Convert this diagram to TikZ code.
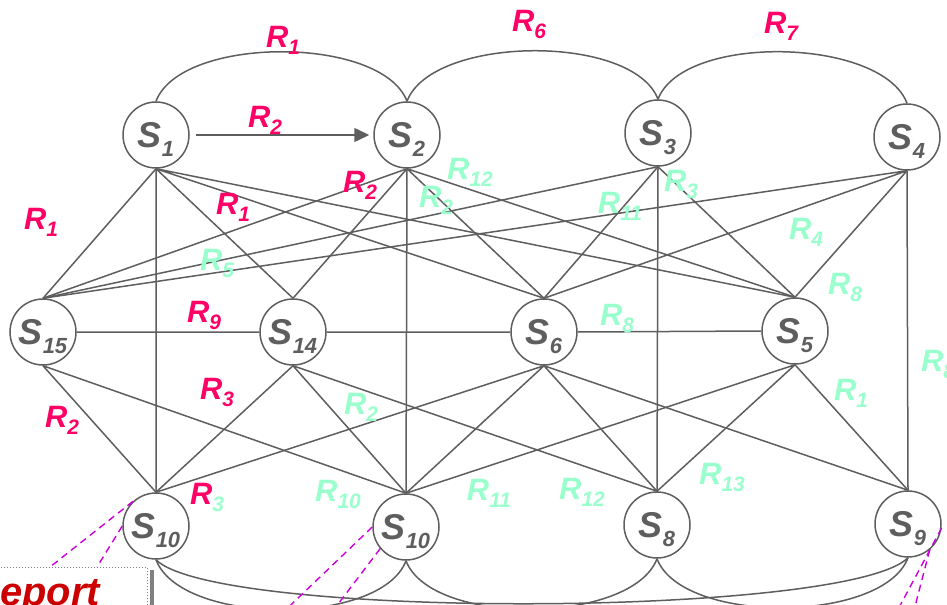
\documentclass[tikz,border=0pt]{standalone}
\usepackage{fontspec}
\setmainfont{Liberation Sans}
\usetikzlibrary{arrows.meta,calc}
\definecolor{edgegray}{HTML}{5E5E5E}
\definecolor{relred}{HTML}{FF0066}
\definecolor{relgreen}{HTML}{99FFCC}
\definecolor{linkpurple}{HTML}{CC00DD}
\definecolor{reportred}{HTML}{CC0000}

% state and relation names, subscript dropped below the baseline
\newcommand{\stname}[1]{\fontsize{36}{36}\selectfont S\raisebox{-9bp}[0pt][0pt]{\fontsize{22}{22}\selectfont #1}}
\newcommand{\relname}[1]{\fontsize{31}{31}\selectfont R\raisebox{-7bp}{\fontsize{21}{21}\selectfont #1}}

\tikzset{
  statenode/.style={circle, draw=edgegray, line width=1.5bp, minimum size=66bp, inner sep=0pt,
    fill=white, text=edgegray, font=\bfseries\itshape},
  link/.style={draw=edgegray, line width=1.5bp},
  redlab/.style={text=relred, font=\bfseries\itshape, inner sep=0pt},
  greenlab/.style={text=relgreen, font=\bfseries\itshape, inner sep=0pt},
  callout/.style={draw=linkpurple, line width=1.4bp, dash pattern=on 7bp off 5bp},
  reportbox/.style={draw=gray, line width=1.2bp, dash pattern=on 1.2bp off 1.8bp,
    text=reportred, font=\fontsize{40}{40}\selectfont\bfseries\itshape}
}

\begin{document}
\begin{tikzpicture}[x=1bp, y=-1bp]
  \useasboundingbox (0,0) rectangle (947,605);
  \clip (0,0) rectangle (947,605);

  % states
  \node[statenode] (s1) at (156,135) {\stname{1}};
  \node[statenode] (s2) at (407,135) {\stname{2}};
  \node[statenode] (s3) at (658,133) {\stname{3}};
  \node[statenode] (s4) at (907,137) {\stname{4}};
  \node[statenode] (s15) at (43,332) {\stname{15}};
  \node[statenode] (s14) at (293,332) {\stname{14}};
  \node[statenode] (s6) at (544,332) {\stname{6}};
  \node[statenode] (s5) at (795,331) {\stname{5}};
  \node[statenode] (s10a) at (156,526) {\stname{10}};
  \node[statenode] (s10b) at (406,527) {\stname{10}};
  \node[statenode] (s8) at (657,525) {\stname{8}};
  \node[statenode] (s9) at (908,524) {\stname{9}};

  % arcs over the top row and under the bottom row
  \draw[link] (s1.north) .. controls +(25,-66) and +(-25,-66) .. (s2.north);
  \draw[link] (s2.north) .. controls +(25,-66) and +(-25,-66) .. (s3.north);
  \draw[link] (s3.north) .. controls +(25,-66) and +(-25,-66) .. (s4.north);
  \draw[link] (s10a.south) .. controls +(25,66) and +(-25,66) .. (s10b.south);
  \draw[link] (s10b.south) .. controls +(25,66) and +(-25,66) .. (s8.south);
  \draw[link] (s8.south) .. controls +(25,66) and +(-25,66) .. (s9.south);
  \draw[link] (s10a.south) .. controls +(60,60) and +(-60,60) .. (s9.south);

  \draw[link, -{Triangle[length=15bp,width=14bp]}, shorten <=6bp, shorten >=4bp] (s1.east) -- (s2.west);

  % top row down to the middle row
  \draw[link] (s1.south) -- (s15.north) (s1.south) -- (s14.north) (s1.south) -- (s6.north) (s1.south) -- (s5.north);
  \draw[link] (s2.south) -- (s15.north) (s2.south) -- (s14.north) (s2.south) -- (s6.north) (s2.south) -- (s5.north);
  \draw[link] (s3.south) -- (s15.north) (s3.south) -- (s6.north) (s3.south) -- (s5.north);
  \draw[link] (s4.south) -- (s15.north) (s4.south) -- (s6.north) (s4.south) -- (s5.north);
  \draw[link] (s1.south) -- (s10a.north) (s2.south) -- (s10b.north) (s3.south) -- (s8.north) (s4.south) -- (s9.north);
  \draw[link] (s15.east) -- (s14.west) (s14.east) -- (s6.west) (s6.east) -- (s5.west);

  % middle row down to the bottom row
  \draw[link] (s15.south) -- (s10a.north) (s15.south) -- (s10b.north);
  \draw[link] (s14.south) -- (s10a.north) (s14.south) -- (s10b.north) (s14.south) -- (s8.north);
  \draw[link] (s6.south) -- (s10a.north) (s6.south) -- (s10b.north) (s6.south) -- (s8.north) (s6.south) -- (s9.north);
  \draw[link] (s5.south) -- (s10b.north) (s5.south) -- (s8.north) (s5.south) -- (s9.north);

  % relation labels
  \node[redlab] (ra) at (283,40) {\relname{1}};
  \node[redlab] (rb) at (265,120) {\relname{2}};
  \node[redlab] (rc) at (41,222) {\relname{1}};
  \node[redlab] (rd) at (233,207) {\relname{1}};
  \node[redlab] (re) at (360,185) {\relname{2}};
  \node[redlab] (rf) at (529,24) {\relname{6}};
  \node[redlab] (rg) at (781,26) {\relname{7}};
  \node[redlab] (rh) at (204,315) {\relname{9}};
  \node[redlab] (ri) at (217,392) {\relname{3}};
  \node[redlab] (rj) at (62,420) {\relname{2}};
  \node[redlab] (rk) at (207,497) {\relname{\textcolor{relgreen}{3}}};

  \node[greenlab] (ga) at (470,172) {\relname{12}};
  \node[greenlab] (gb) at (436,200) {\relname{2}};
  \node[greenlab] (gc) at (620,206) {\relname{11}};
  \node[greenlab] (gd) at (681,184) {\relname{3}};
  \node[greenlab] (ge) at (806,232) {\relname{4}};
  \node[greenlab] (gf) at (845,287) {\relname{8}};
  \node[greenlab] (gg) at (617,318) {\relname{8}};
  \node[greenlab] (gh) at (217,263) {\relname{5}};
  \node[greenlab] (gi) at (851,393) {\relname{1}};
  \node[greenlab] (gj) at (938,364) {\relname{8}};
  \node[greenlab] (gk) at (722,477) {\relname{13}};
  \node[greenlab] (gl) at (582,492) {\relname{12}};
  \node[greenlab] (gm) at (489,493) {\relname{11}};
  \node[greenlab] (gn) at (338,494) {\relname{10}};
  \node[greenlab] (go) at (361,407) {\relname{2}};

  % report box with its shadow
  \node[reportbox, anchor=north west, text width=145bp, inner xsep=31bp, inner ysep=10bp, align=left]
    (report) at (-60,567) {Report};
  \fill[gray] ($(report.north east)+(1.5,3)$) rectangle ($(report.south east)+(6,0)$);

  % dashed callouts
  \coordinate (ca) at (50,567);
  \coordinate (cb) at (97,567);
  \coordinate (cc) at (249,645);
  \coordinate (cd) at (307,645);
  \coordinate (ce) at (879,645);
  \coordinate (cf) at (905,645);
  \draw[callout] (s10a.133) -- (ca);
  \draw[callout] (s10a.180) -- (cb);
  \draw[callout] (s10b.180) -- (cc);
  \draw[callout] (s10b.220) -- (cd);
  \draw[callout] (s9.353) -- (ce);
  \draw[callout] (s9.310) -- (cf);
\end{tikzpicture}
\end{document}
